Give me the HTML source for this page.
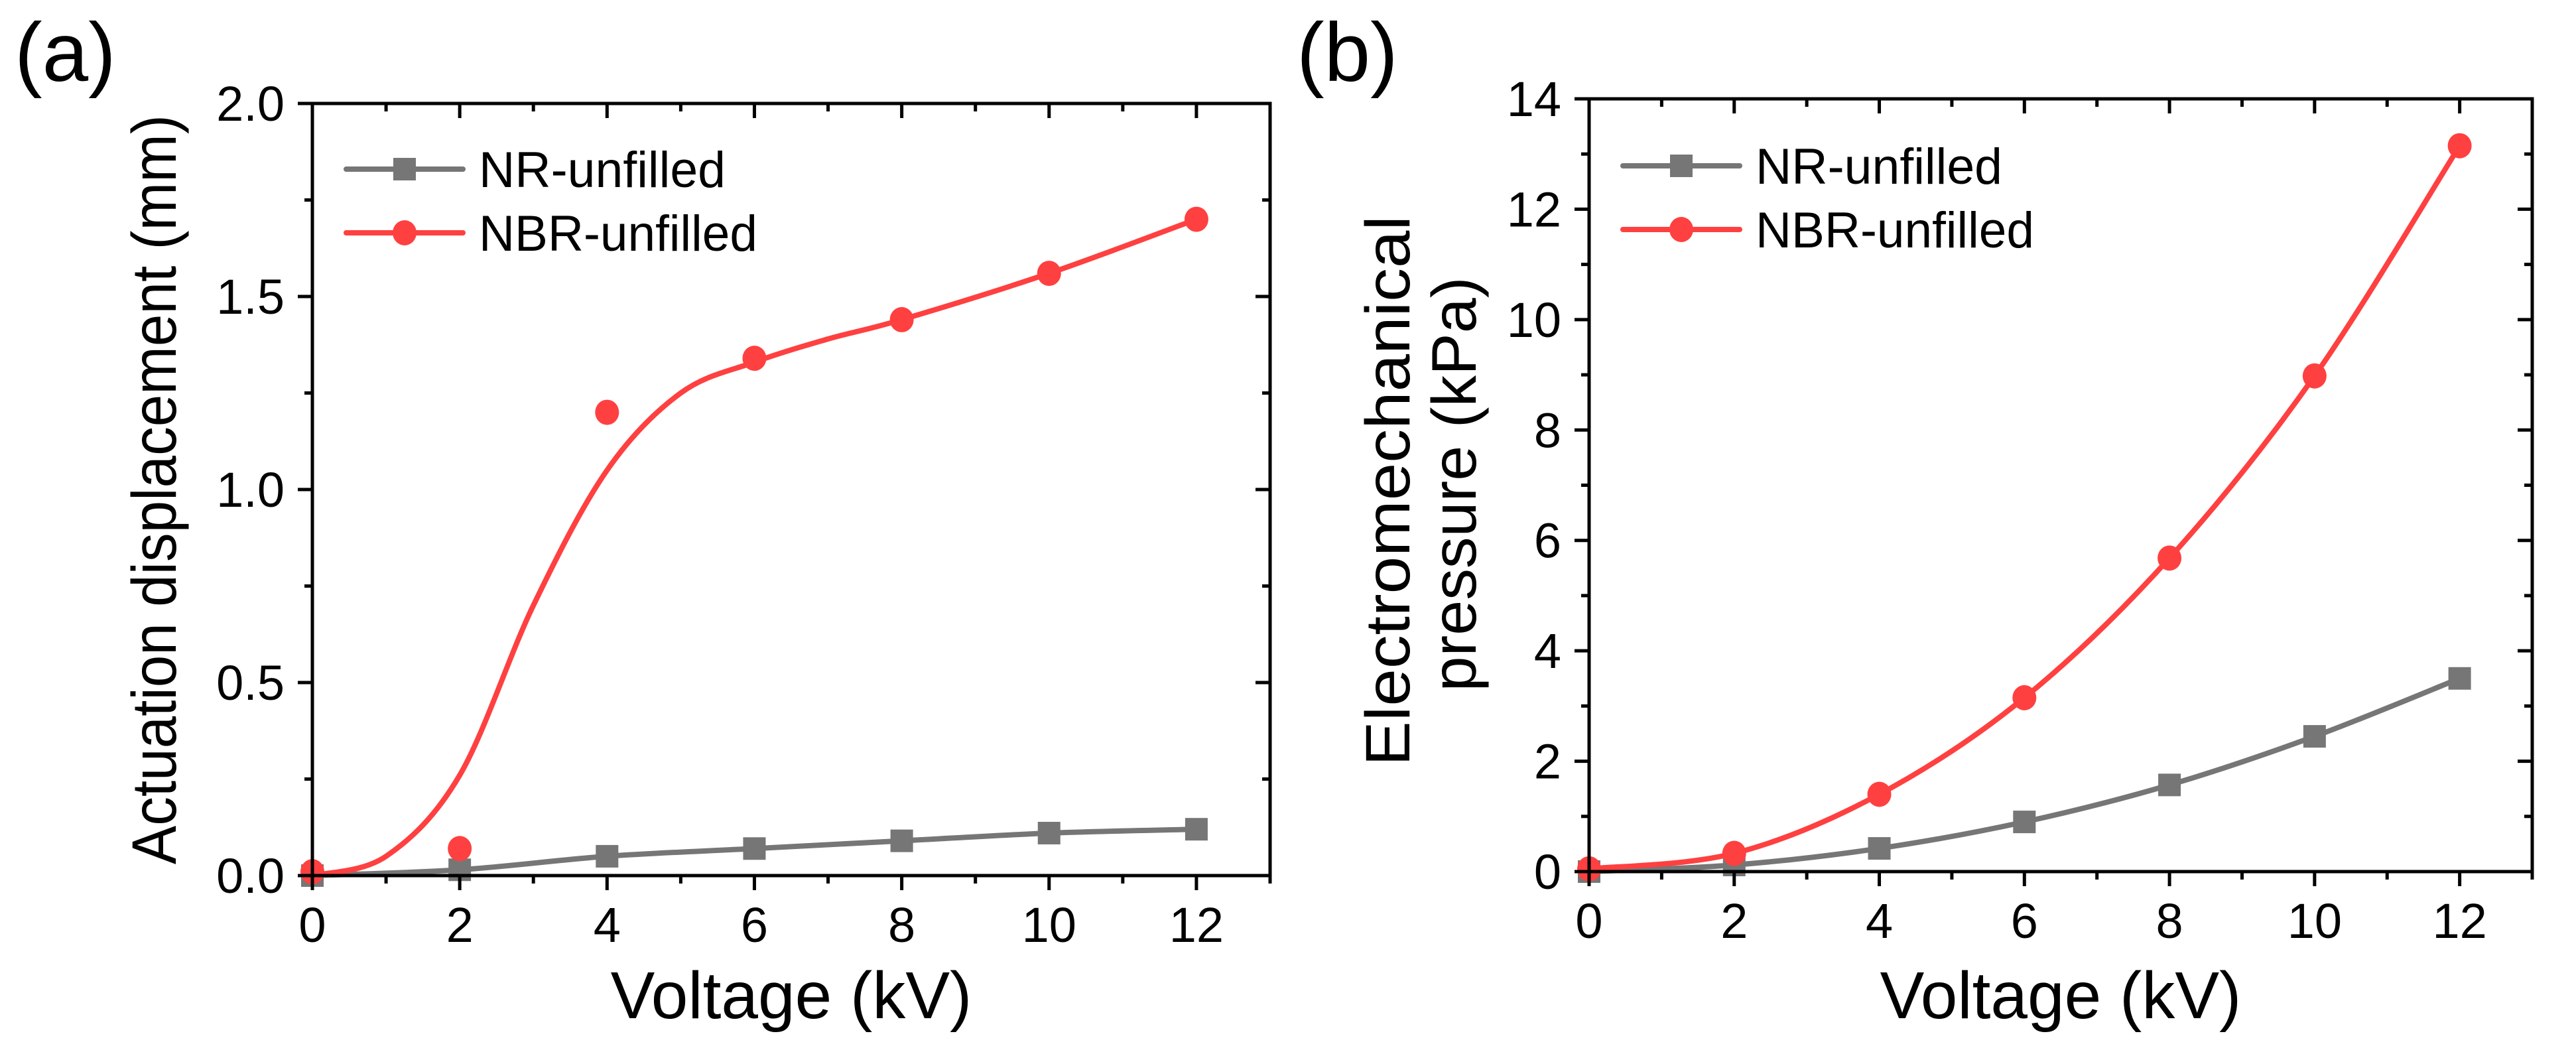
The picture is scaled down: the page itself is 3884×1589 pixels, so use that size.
<!DOCTYPE html>
<html><head><meta charset="utf-8"><style>
html,body{margin:0;padding:0;background:#fff;}
svg{display:block;font-family:"Liberation Sans",Arial,sans-serif;}
</style></head><body>
<svg id="fig" width="3884" height="1589" viewBox="0 0 3884 1589" xmlns="http://www.w3.org/2000/svg"></svg>
<script>
// ---- data ----
const voltages = [0, 2, 4, 6, 8, 10, 12];
const dispNR = [0, 0.015, 0.05, 0.07, 0.09, 0.11, 0.12];
const dispNBR = [0.01, 0.07, 1.2, 1.34, 1.44, 1.56, 1.70];
const fitX = [0, 1, 2, 3, 4, 5, 6, 7, 8, 10, 12];
const fitNBR = [0, 0.05, 0.26, 0.70, 1.05, 1.25, 1.33, 1.39, 1.44, 1.56, 1.70];
const presNR = [0, 0.12, 0.42, 0.9, 1.57, 2.45, 3.5];
const presNBR = [0.05, 0.33, 1.4, 3.15, 5.68, 8.98, 13.15];
const xTicks = [0, 2, 4, 6, 8, 10, 12];
const yTicksA = [0, 0.5, 1.0, 1.5, 2.0];
const yTickLabelsA = ["0.0", "0.5", "1.0", "1.5", "2.0"];
const yTicksB = [0, 2, 4, 6, 8, 10, 12, 14];

const NS = "http://www.w3.org/2000/svg";
const svg = document.getElementById('fig');
const GRAY = "#767676", RED = "#ff4040";
function el(tag, attrs, parent) {
  const e = document.createElementNS(NS, tag);
  for (const k in attrs) e.setAttribute(k, attrs[k]);
  (parent || svg).appendChild(e);
  return e;
}
function smoothPath(pts) {
  let d = "M" + pts[0][0] + "," + pts[0][1];
  for (let i = 0; i < pts.length - 1; i++) {
    const p0 = pts[Math.max(0, i - 1)], p1 = pts[i], p2 = pts[i + 1], p3 = pts[Math.min(pts.length - 1, i + 2)];
    const c1 = [p1[0] + (p2[0] - p0[0]) / 6, p1[1] + (p2[1] - p0[1]) / 6];
    const c2 = [p2[0] - (p3[0] - p1[0]) / 6, p2[1] - (p3[1] - p1[1]) / 6];
    d += " C" + c1[0] + "," + c1[1] + " " + c2[0] + "," + c2[1] + " " + p2[0] + "," + p2[1];
  }
  return d;
}

function panel(cfg) {
  const g = el('g', {});
  
  
  const X = v => cfg.x0 + (v - 0) * (cfg.x1 - cfg.x0) / 13;
  const Y = v => cfg.y0 - v * (cfg.y0 - cfg.yTop) / cfg.yMax;
  cfg.series.forEach(s => {
    const sg = el('g', {}, g);
    
    
    const lx = s.lineX || voltages, ly = s.lineY || s.y;
    const p = el('path', {d: smoothPath(lx.map((v, i) => [X(v), Y(ly[i])])), fill: "none", stroke: s.color, "stroke-width": 8, "stroke-linejoin": "round"}, sg);
    
    
    voltages.forEach((v, i) => {
      let m;
      if (s.marker === 'sq') m = el('rect', {x: X(v) - 17, y: Y(s.y[i]) - 17, width: 34, height: 34, fill: s.color}, sg);
      else m = el('ellipse', {cx: X(v), cy: Y(s.y[i]), rx: 18, ry: 19, fill: s.color}, sg);
      
      
    });
  });
  const fr = el('rect', {x: cfg.x0, y: cfg.yTop, width: cfg.x1 - cfg.x0, height: cfg.y0 - cfg.yTop, fill: "none", stroke: "#000", "stroke-width": 5}, g);
  
  
  for (let v = 0; v <= 13; v++) {
    const major = v % 2 === 0;
    const L = major ? 22 : 12;
    el('line', {x1: X(v), x2: X(v), y1: cfg.y0, y2: cfg.y0 + L, stroke: "#000", "stroke-width": 5}, g);
    el('line', {x1: X(v), x2: X(v), y1: cfg.yTop, y2: cfg.yTop + L, stroke: "#000", "stroke-width": 5}, g);
  }
  xTicks.forEach(v => {
    const t = el('text', {x: X(v), y: cfg.y0 + 100, "font-size": 74, "text-anchor": "middle"}, g);
    t.textContent = v;
    
    
  });
  const minorStep = cfg.yStep / 2;
  for (let k = 0; k * minorStep <= cfg.yMax + 1e-9; k++) {
    const v = k * minorStep, major = k % 2 === 0, L = major ? 22 : 12;
    el('line', {x1: cfg.x0 - L, x2: cfg.x0, y1: Y(v), y2: Y(v), stroke: "#000", "stroke-width": 5}, g);
    el('line', {x1: cfg.x1 - L, x2: cfg.x1, y1: Y(v), y2: Y(v), stroke: "#000", "stroke-width": 5}, g);
  }
  cfg.yTicks.forEach((v, i) => {
    const t = el('text', {x: cfg.x0 - 42, y: Y(v) + 26, "font-size": 74, "text-anchor": "end"}, g);
    t.textContent = cfg.yLabels ? cfg.yLabels[i] : v;
    
    
  });
  const xt = el('text', {x: (cfg.x0 + cfg.x1) / 2, y: 1535, "font-size": 100, "text-anchor": "middle"}, g);
  xt.textContent = "Voltage (kV)";
  
  
  cfg.yTitle.forEach((line, i) => {
    const yt = el('text', {x: 0, y: 0, "font-size": 95, "text-anchor": "middle", transform: `translate(${line.x},${line.cy}) rotate(-90)`, textLength: line.len, lengthAdjust: "spacingAndGlyphs"}, g);
    yt.textContent = line.t;
    
    
  });
  const pl = el('text', {x: cfg.labelX, y: 122, "font-size": 125}, g);
  pl.textContent = cfg.label;
  
  
  const lg = el('g', {}, g);
  
  
  cfg.series.forEach((s, i) => {
    const ly = cfg.legY + i * 96;
    const e = el('g', {}, lg);
    
    
    el('line', {x1: cfg.legX, x2: cfg.legX + 176, y1: ly, y2: ly, stroke: s.color, "stroke-width": 8, "stroke-linecap": "round"}, e);
    if (s.marker === 'sq') el('rect', {x: cfg.legX + 71, y: ly - 17, width: 34, height: 34, fill: s.color}, e);
    else el('ellipse', {cx: cfg.legX + 88, cy: ly, rx: 18, ry: 19, fill: s.color}, e);
    const t = el('text', {x: cfg.legX + 200, y: ly + 27, "font-size": 76, textLength: s.label.length > 11 ? 420 : 372, lengthAdjust: "spacingAndGlyphs"}, e);
    t.textContent = s.label;
  });
}

panel({name: 'panel-a', x0: 471, x1: 1915, y0: 1320, yTop: 156, yMax: 2.0, yStep: 0.5,
  yTicks: yTicksA, yLabels: yTickLabelsA,
  yTitle: [{t: "Actuation displacement (mm)", x: 265, cy: 738, len: 1130}],
  label: "(a)", labelX: 22, legX: 522, legY: 255,
  series: [
    {name: 'nr-unfilled-series', label: 'NR-unfilled', color: GRAY, marker: 'sq', y: dispNR},
    {name: 'nbr-unfilled-series', label: 'NBR-unfilled', color: RED, marker: 'ci', y: dispNBR, lineX: fitX, lineY: fitNBR}
  ]});
panel({name: 'panel-b', x0: 2396, x1: 3818, y0: 1314, yTop: 149, yMax: 14, yStep: 2,
  yTicks: yTicksB,
  yTitle: [{t: "Electromechanical", x: 2125, cy: 740, len: 830}, {t: "pressure (kPa)", x: 2225, cy: 730, len: 625}],
  label: "(b)", labelX: 1955, legX: 2447, legY: 250,
  series: [
    {name: 'nr-unfilled-series', label: 'NR-unfilled', color: GRAY, marker: 'sq', y: presNR},
    {name: 'nbr-unfilled-series', label: 'NBR-unfilled', color: RED, marker: 'ci', y: presNBR}
  ]});
</script>
</body></html>
